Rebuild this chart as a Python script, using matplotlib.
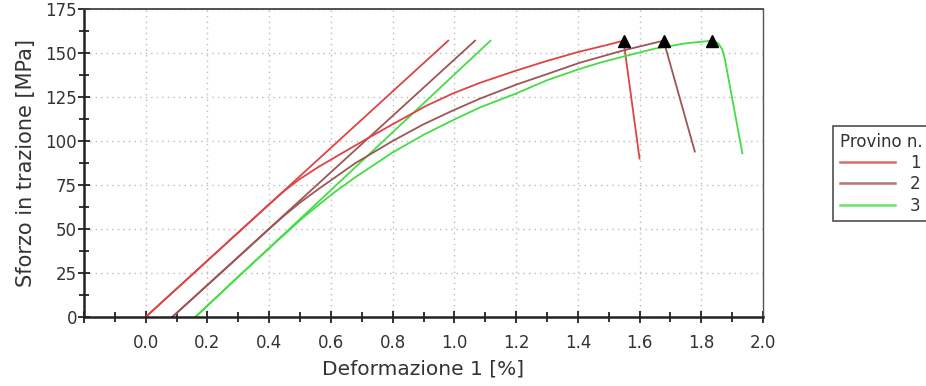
import numpy as np
from matplotlib import pyplot as plt
from matplotlib.ticker import MultipleLocator, FixedLocator

# curve data: strain [%] vs stress [MPa]
eps1 = [0.0, 0.2, 0.4, 0.45, 0.5, 0.562, 0.65, 0.724, 0.8, 0.909, 0.995, 1.082, 1.2, 1.3, 1.4, 1.5, 1.548, 1.600]
sig1 = [0.0, 32.0, 64.0, 71.8, 78.5, 85.5, 94.5, 102.0, 109.5, 120.0, 127.0, 133.0, 140.0, 145.5, 150.5, 154.8, 157.0, 90.0]

eps2 = [0.086, 0.25, 0.4, 0.45, 0.5, 0.562, 0.68, 0.8, 0.9, 0.995, 1.082, 1.2, 1.3, 1.407, 1.548, 1.678, 1.779]
sig2 = [0.0, 26.0, 50.0, 57.8, 65.0, 73.0, 87.5, 100.0, 109.5, 117.3, 124.0, 132.0, 138.0, 144.5, 151.5, 157.0, 94.0]

eps3 = [0.161, 0.3, 0.45, 0.51, 0.562, 0.62, 0.68, 0.8, 0.9, 0.995, 1.082, 1.2, 1.3, 1.407, 1.472, 1.548, 1.65, 1.75, 1.835, 1.855, 1.868, 1.877, 1.933]
sig3 = [0.0, 23.0, 47.0, 56.5, 64.0, 72.0, 79.5, 93.5, 103.5, 111.8, 119.0, 127.0, 134.5, 141.0, 144.5, 148.0, 152.5, 155.5, 157.0, 155.5, 152.0, 146.0, 93.0]

# modulus (straight) lines: start and end
lin1_x = [0.0, 0.98]
lin1_y = [0.0, 157.0]
lin2_x = [0.086, 1.067]
lin2_y = [0.0, 157.0]
lin3_x = [0.161, 1.117]
lin3_y = [0.0, 157.0]

# break points (triangles)
peak_x = [1.548, 1.678, 1.835]
peak_y = [157.0, 157.0, 157.0]

labels = ["1", "2", "3"]
colors = ["#dd4444", "#9e5555", "#44dd44"]

fig = plt.figure(figsize=(9.26, 3.86), dpi=100)
ax = fig.add_axes([0.0907, 0.1788, 0.7333, 0.7979])

txt = "#333333"
lw = 1.3

ax.plot(lin1_x, lin1_y, color=colors[0], lw=lw)
ax.plot(lin2_x, lin2_y, color=colors[1], lw=lw)
ax.plot(lin3_x, lin3_y, color=colors[2], lw=lw)
h1, = ax.plot(eps1, sig1, color=colors[0], lw=lw, label=labels[0])
h2, = ax.plot(eps2, sig2, color=colors[1], lw=lw, label=labels[1])
h3, = ax.plot(eps3, sig3, color=colors[2], lw=lw, label=labels[2])
ax.plot(peak_x, peak_y, linestyle="none", marker="^", color="black", markersize=8, zorder=5)

ax.set_xlim(-0.2, 2.0)
ax.set_ylim(0, 175)

xt = np.round(np.arange(-0.2, 2.01, 0.2), 1)
ax.xaxis.set_major_locator(FixedLocator(xt))
ax.xaxis.set_minor_locator(MultipleLocator(0.1))
ax.yaxis.set_major_locator(MultipleLocator(25))
ax.yaxis.set_minor_locator(MultipleLocator(12.5))
ax.set_xticklabels(["" if v < 0 else "%.1f" % v for v in xt])

ax.tick_params(axis="both", which="major", direction="inout", length=8, width=1.3,
               labelsize=12, labelcolor=txt, color="#222222")
ax.tick_params(axis="both", which="minor", direction="inout", length=7, width=1.3, color="#222222")
ax.tick_params(axis="x", pad=8)
ax.tick_params(axis="y", pad=1)

ax.grid(True, which="major", linestyle=(0, (1, 3)), color="#bbbbbb", linewidth=1)

ax.spines["left"].set_linewidth(1.8)
ax.spines["bottom"].set_linewidth(1.8)
ax.spines["left"].set_color("#222222")
ax.spines["bottom"].set_color("#222222")
ax.spines["top"].set_color("#444444")
ax.spines["top"].set_linewidth(1.3)
ax.spines["right"].set_color("#555555")
ax.spines["right"].set_linewidth(1.0)

ax.set_xlabel("Deformazione 1 [%]", fontsize=14.5, color=txt, labelpad=6)
ax.set_ylabel("Sforzo in trazione [MPa]", fontsize=15, color=txt, labelpad=7)

leg = fig.legend(handles=[h1, h2, h3], labels=labels, title="Provino n.",
                 loc="upper left", bbox_to_anchor=(0.8996, 0.6736),
                 fontsize=12, title_fontsize=12, frameon=True, fancybox=False,
                 edgecolor="#222222", handlelength=3.3, handletextpad=0.9,
                 labelspacing=0.2, borderpad=0.4, borderaxespad=0)
leg._legend_box.align = "left"
leg.get_frame().set_linewidth(1.2)
for l in leg.get_lines():
    l.set_linewidth(1.8)
    l.set_alpha(0.8)
for t in leg.get_texts():
    t.set_color(txt)
leg.get_title().set_color(txt)

plt.savefig("out.png", dpi=100)
